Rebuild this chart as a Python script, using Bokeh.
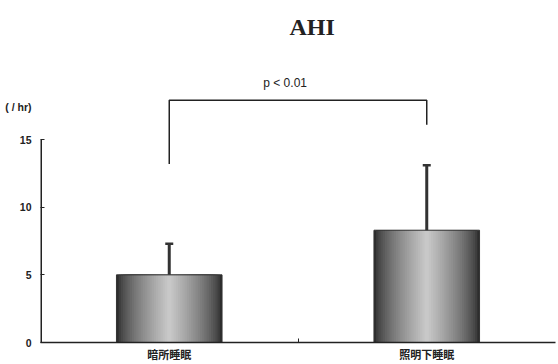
from bokeh.plotting import figure
from bokeh.models import Range1d, FixedTicker, Label, Whisker, ColumnDataSource, TeeHead
from bokeh.embed import file_html
from bokeh.resources import INLINE

# data
categories = ["暗所睡眠", "照明下睡眠"]
means = [5.0, 8.3]
errors = [2.3, 4.8]
bracket_left_bottom = 13.2
bracket_right_bottom = 16.1
bracket_top = 17.9
y_ticks = [0, 5, 10, 15]
unit_pos = 17.4
p_text = "p < 0.01"
title_text = "AHI"
unit_text = "( / hr)"

xs = list(range(len(categories)))
x_start, x_end = -0.5, 1.5

p = figure(width=558, height=364, output_backend="svg", toolbar_location=None,
           x_range=Range1d(x_start, x_end), y_range=Range1d(0, 25.28),
           min_border_left=40, min_border_right=3, min_border_top=0, min_border_bottom=22)
p.outline_line_color = None
p.xgrid.visible = False
p.ygrid.visible = False
p.background_fill_color = "white"
p.border_fill_color = "white"

# y axis line (only from 0 to the top tick)
p.segment(x0=[x_start], y0=[y_ticks[0]], x1=[x_start], y1=[y_ticks[-1]],
          line_color="#222222", line_width=3)

# gradient bars (nested strips: dark edges, light centre)
N = 24
bw = 0.41
for k in range(N):
    t = k / (N - 1)
    g = int(45 + (200 - 45) * (t ** 0.7))
    col = "#%02x%02x%02x" % (g, g, g)
    p.vbar(x=xs, top=means, bottom=0, width=bw * (1 - k / N), fill_color=col, line_color=None)
p.vbar(x=xs, top=means, bottom=0, width=bw, fill_color=None, line_color="#333333", line_width=1)

# error bars
src = ColumnDataSource(dict(x=xs, base=means, upper=[m + e for m, e in zip(means, errors)]))
p.segment(x0="x", y0="base", x1="x", y1="upper", source=src, line_color="#333333", line_width=3)
w = Whisker(base="x", upper="upper", lower="upper", source=src, dimension="height",
            line_color="#333333", line_width=0.01,
            upper_head=TeeHead(size=8, line_color="#333333", line_width=2.5),
            lower_head=None)
p.add_layout(w)

# significance bracket
p.line(x=[xs[0], xs[0], xs[1], xs[1]],
       y=[bracket_left_bottom, bracket_top, bracket_top, bracket_right_bottom],
       line_color="#222222", line_width=1.5)
p.add_layout(Label(x=(xs[0] + xs[1]) / 2 - 0.05, y=bracket_top + 0.75, text=p_text,
                   text_align="center", text_baseline="bottom",
                   text_font="Liberation Sans", text_font_size="12px", text_color="#222222"))

# title
p.add_layout(Label(x=0.555, y=23.35, text=title_text, text_align="center", text_baseline="middle",
                   text_font="Liberation Serif", text_font_style="bold",
                   text_font_size="24px", text_color="#222222"))

# axes
ya = p.yaxis[0]
ya.ticker = FixedTicker(ticks=y_ticks + [unit_pos], minor_ticks=y_ticks)
ya.major_label_overrides = {unit_pos: unit_text}
ya.major_tick_in = 0
ya.major_tick_out = 0
ya.minor_tick_in = 4
ya.minor_tick_out = 0
ya.minor_tick_line_color = "#222222"
ya.minor_tick_line_width = 1
ya.axis_line_color = None
ya.major_label_text_font = "Liberation Sans"
ya.major_label_text_font_style = "bold"
ya.major_label_text_font_size = "10.5px"
ya.major_label_text_color = "#222222"
ya.major_label_standoff = 9

xa = p.xaxis[0]
xa.ticker = FixedTicker(ticks=xs, minor_ticks=[0.5])
xa.major_label_overrides = {i: c for i, c in enumerate(categories)}
xa.major_tick_in = 0
xa.major_tick_out = 0
xa.minor_tick_in = 4
xa.minor_tick_out = 0
xa.minor_tick_line_color = "#222222"
xa.axis_line_color = "#222222"
xa.axis_line_width = 1.5
xa.major_label_text_font = "Noto Sans CJK JP"
xa.major_label_text_font_style = "bold"
xa.major_label_text_font_size = "11px"
xa.major_label_text_color = "#222222"
xa.major_label_standoff = 3

open("out.html", "w").write(file_html(p, INLINE))
